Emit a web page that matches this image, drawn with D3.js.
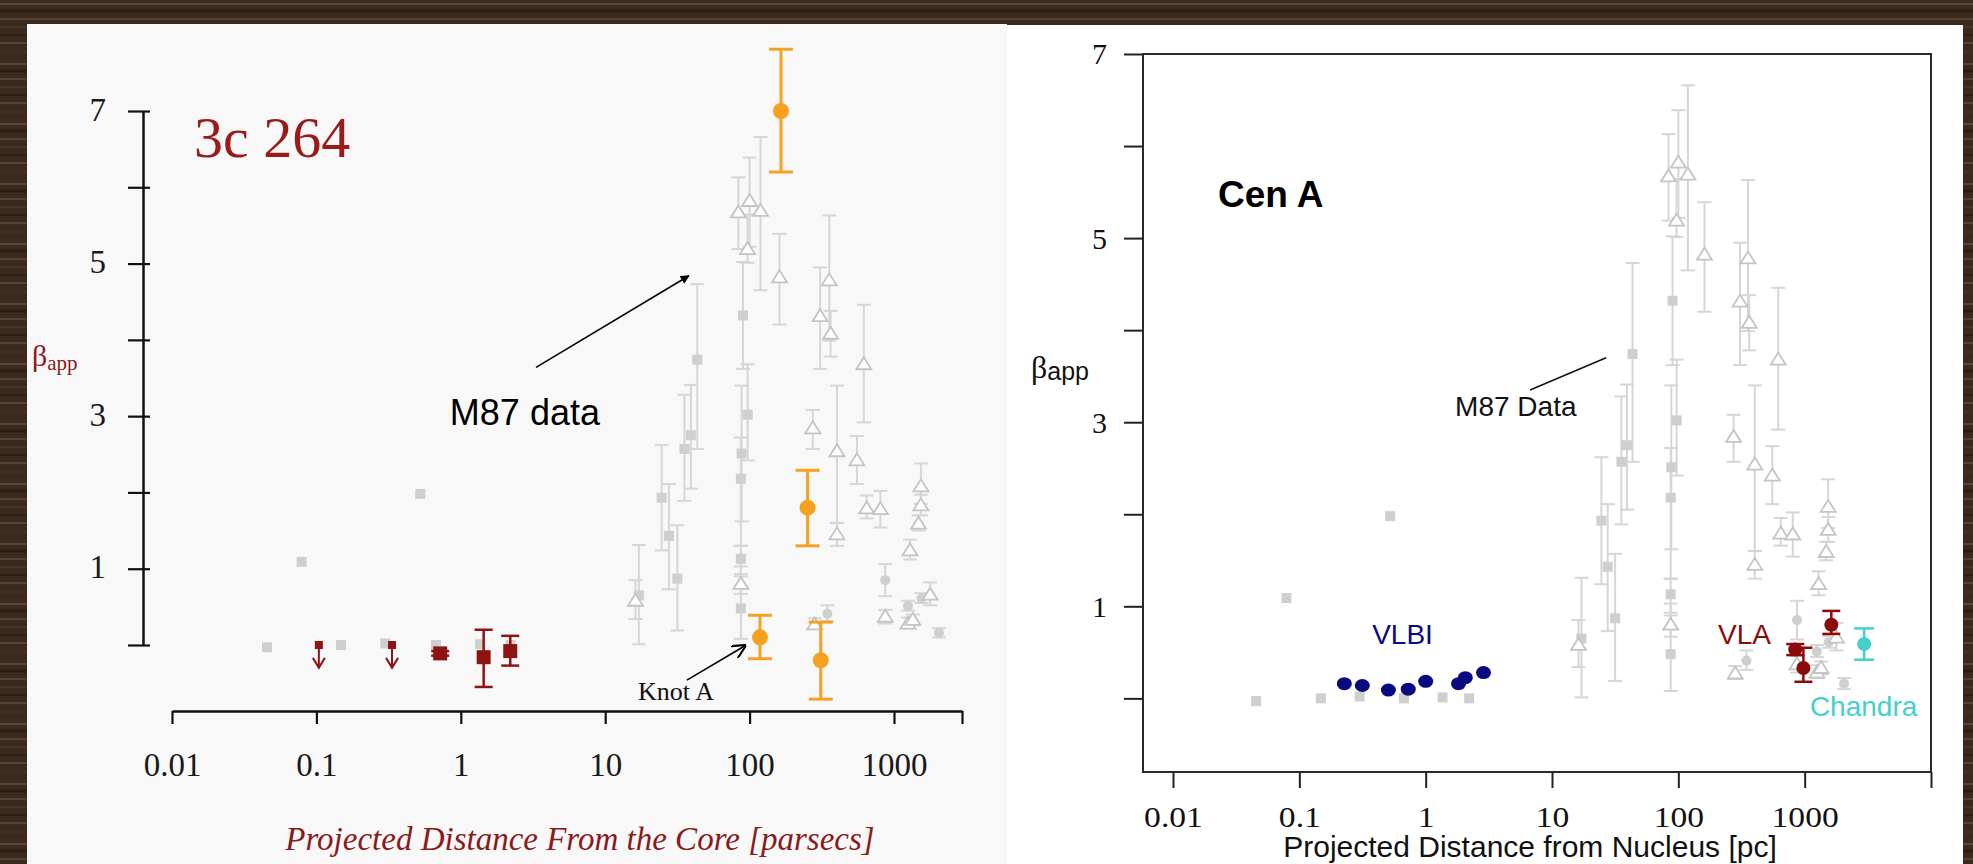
<!DOCTYPE html>
<html>
<head>
<meta charset="utf-8">
<script src="https://cdn.jsdelivr.net/npm/d3@7"></script>
<style>
  body { margin: 0; background: #3a2a1e; }
  svg { display: block; }
  .serif { font-family: "Liberation Serif", "DejaVu Serif", serif; }
  .sans { font-family: "Liberation Sans", Arial, sans-serif; }
</style>
</head>
<body>
<svg id="chart" width="1973" height="864"></svg>
<script>
// M87 comparison data (grey), shared by both panels
var m87X = [0.0455, 0.079, 0.148, 0.30, 0.524, 0.673, 1.36, 2.21,
  17.1, 16.2, 24.6, 27.6, 31.6, 35.4, 39.2, 43.4,
  83.6, 96.8, 100, 119, 90, 97, 88, 87, 87, 87, 87,
  161, 308, 356, 364, 618, 274, 403, 554, 647, 805, 403,
  1535, 1535, 1480, 1290, 282, 346, 870, 870, 1250, 1250, 1350, 1550, 1780, 2050]
var m87Y = [-0.03, 1.09, 0.0, 0.02, 1.98, 0.0, 0.01, 0.0,
  0.65, 0.58, 1.93, 1.43, 0.87, 2.57, 2.75, 3.74,
  5.67, 5.19, 5.82, 5.69, 4.32, 3.02, 2.51, 2.18, 1.13, 0.80, 0.48,
  4.82, 4.31, 4.78, 4.08, 3.68, 2.84, 2.54, 2.42, 1.79, 1.78, 1.45,
  2.08, 1.83, 1.59, 1.24, 0.27, 0.41, 0.85, 0.37, 0.51, 0.28, 0.33, 0.61, 0.66, 0.16]
var m87Lo = [null, null, null, null, null, null, null, null,
  0.01, 0.34, 1.24, 0.73, 0.19, 1.89, 2.05, 2.57,
  5.19, 5.01, 5.22, 4.65, 3.62, 2.42, 1.62, 1.30, 0.93, 0.67, 0.08,
  4.20, 3.62, 3.99, 3.78, 2.92, 2.57, 1.60, 2.11, 1.66, 1.54, 1.30,
  1.85, 1.70, 1.50, 1.12, 0.21, 0.31, 0.64, 0.28, 0.45, 0.22, 0.26, 0.55, 0.52, 0.10]
var m87Hi = [null, null, null, null, null, null, null, null,
  1.31, 0.85, 2.62, 2.11, 1.57, 3.28, 3.41, 4.73,
  6.13, 5.64, 6.39, 6.66, 5.02, 3.68, 3.40, 2.72, 1.30, 0.90, 1.03,
  5.39, 4.95, 5.63, 4.38, 4.46, 3.08, 3.40, 2.74, 1.96, 2.02, 1.60,
  2.38, 1.97, 1.70, 1.38, 0.35, 0.52, 1.06, 0.46, 0.58, 0.36, 0.40, 0.68, 0.82, 0.22]
var m87Shape = ["s", "s", "s", "s", "s", "s", "s", "s",
  "s", "t", "s", "s", "s", "s", "s", "s",
  "t", "t", "t", "t", "s", "s", "s", "s", "s", "t", "s",
  "t", "t", "t", "t", "t", "t", "t", "t", "t", "t", "t",
  "t", "t", "t", "t", "t", "c", "c", "t", "c", "t", "t", "c", "t", "c"]

// 3C 264 panel
var c264X = [0.72, 1.44, 2.2]
var c264Y = [-0.11, -0.16, -0.08]
var c264Lo = [-0.14, -0.55, -0.27]
var c264Hi = [-0.08, 0.20, 0.12]
var c264LimX = [0.104, 0.334]   // upper limits
var c264LimY = [0.0, 0.0]
var hstX = [165, 252, 118, 311]
var hstY = [7.0, 1.80, 0.10, -0.20]
var hstLo = [6.2, 1.30, -0.18, -0.71]
var hstHi = [7.81, 2.29, 0.39, 0.30]

// Cen A panel
var vlbiX = [0.227, 0.315, 0.507, 0.728, 1.0, 1.82, 2.06, 2.87]
var vlbiY = [0.16, 0.14, 0.09, 0.10, 0.185, 0.16, 0.225, 0.28]
var vlaX = [842, 977, 1625]
var vlaY = [0.53, 0.33, 0.80]
var vlaLo = [0.47, 0.18, 0.70]
var vlaHi = [0.59, 0.55, 0.95]
var chandraX = [2957]
var chandraY = [0.59]
var chandraLo = [0.42]
var chandraHi = [0.76]

var xTicks = [0.01, 0.1, 1, 10, 100, 1000]
var yTicks = [0, 1, 2, 3, 4, 5, 6, 7]
var yLabels = [1, 3, 5, 7]

var svg = d3.select("#chart")
var defs = svg.append("defs")

// wood-ish backdrop
var grain = [[4, "#5b4532", 2], [11, "#2a1d14", 3], [19, "#6e5842", 1], [27, "#463324", 2],
  [35, "#2b1f16", 2], [43, "#60493a", 1.5], [52, "#3f2e21", 3]]
var pat = defs.append("pattern").attr("id", "wood")
  .attr("patternUnits", "userSpaceOnUse").attr("width", 400).attr("height", 60)
pat.append("rect").attr("width", 400).attr("height", 60).attr("fill", "#3a2a1e")
grain.forEach(function (g) {
  pat.append("line").attr("x1", 0).attr("x2", 400).attr("y1", g[0]).attr("y2", g[0])
    .attr("stroke", g[1]).attr("stroke-width", g[2])
})
svg.append("rect").attr("width", 1973).attr("height", 864).attr("fill", "url(#wood)")

defs.append("marker").attr("id", "headFill")
  .attr("viewBox", "0 0 10 10").attr("refX", 9).attr("refY", 5)
  .attr("markerWidth", 9).attr("markerHeight", 9).attr("markerUnits", "userSpaceOnUse")
  .attr("orient", "auto")
  .append("path").attr("d", "M0,0 L10,5 L0,10 Z").attr("fill", "#000")
defs.append("marker").attr("id", "headOpen")
  .attr("viewBox", "0 0 10 10").attr("refX", 9).attr("refY", 5)
  .attr("markerWidth", 14).attr("markerHeight", 14).attr("markerUnits", "userSpaceOnUse")
  .attr("orient", "auto")
  .append("path").attr("d", "M0,0 L10,5 L0,10").attr("fill", "none")
  .attr("stroke", "#000").attr("stroke-width", 1.5)

// panels
svg.append("rect").attr("x", 27).attr("y", 24).attr("width", 980).attr("height", 840).attr("fill", "#f8f8f8")
svg.append("rect").attr("x", 1007).attr("y", 25).attr("width", 956).attr("height", 839).attr("fill", "#ffffff")

var fmt = function (d) { return d >= 1 ? d3.format("d")(d) : String(d) }
var grey = "#cfcfcf"
var greyLine = "#d6d6d6"

function drawM87(g, x, y, cap) {
  var idx = d3.range(m87X.length)
  g.selectAll("line.eb").data(idx.filter(function (i) { return m87Lo[i] != null }))
    .join("line").attr("class", "eb")
    .attr("x1", function (i) { return x(m87X[i]) }).attr("x2", function (i) { return x(m87X[i]) })
    .attr("y1", function (i) { return y(m87Lo[i]) }).attr("y2", function (i) { return y(m87Hi[i]) })
    .attr("stroke", greyLine).attr("stroke-width", 2)
  ;["lo", "hi"].forEach(function (k) {
    var arr = k == "lo" ? m87Lo : m87Hi
    g.selectAll("line.cap" + k).data(idx.filter(function (i) { return arr[i] != null }))
      .join("line").attr("class", "cap" + k)
      .attr("x1", function (i) { return x(m87X[i]) - cap }).attr("x2", function (i) { return x(m87X[i]) + cap })
      .attr("y1", function (i) { return y(arr[i]) }).attr("y2", function (i) { return y(arr[i]) })
      .attr("stroke", greyLine).attr("stroke-width", 2)
  })
  g.selectAll("rect.sq").data(idx.filter(function (i) { return m87Shape[i] == "s" }))
    .join("rect").attr("class", "sq")
    .attr("x", function (i) { return x(m87X[i]) - 5 }).attr("y", function (i) { return y(m87Y[i]) - 5 })
    .attr("width", 10).attr("height", 10).attr("fill", grey)
  g.selectAll("circle.ci").data(idx.filter(function (i) { return m87Shape[i] == "c" }))
    .join("circle").attr("class", "ci")
    .attr("cx", function (i) { return x(m87X[i]) }).attr("cy", function (i) { return y(m87Y[i]) })
    .attr("r", 5).attr("fill", grey)
  g.selectAll("path.tr").data(idx.filter(function (i) { return m87Shape[i] == "t" }))
    .join("path").attr("class", "tr")
    .attr("transform", function (i) { return "translate(" + x(m87X[i]) + "," + y(m87Y[i]) + ")" })
    .attr("d", "M0,-7 L7.5,5 L-7.5,5 Z")
    .attr("fill", "#fff").attr("stroke", "#c4c4c4").attr("stroke-width", 1.8)
}

function errBars(g, xs, ys, lo, hi, x, y, color, cap, w) {
  xs.forEach(function (d, i) {
    g.append("line").attr("x1", x(d)).attr("x2", x(d)).attr("y1", y(lo[i])).attr("y2", y(hi[i]))
      .attr("stroke", color).attr("stroke-width", w)
    ;[lo[i], hi[i]].forEach(function (v) {
      g.append("line").attr("x1", x(d) - cap).attr("x2", x(d) + cap).attr("y1", y(v)).attr("y2", y(v))
        .attr("stroke", color).attr("stroke-width", w)
    })
  })
}

// ---------------- left panel: 3C 264 ----------------
var xL = d3.scaleLog().domain([0.01, 2958]).range([172, 962])
var yL = d3.scaleLinear().domain([0, 7]).range([645, 111])
var gL = svg.append("g")

var axL = gL.append("g").attr("transform", "translate(143,0)")
  .call(d3.axisLeft(yL).tickValues(yTicks).tickSize(15).tickSizeOuter(0).tickPadding(22)
    .tickFormat(function (d) { return yLabels.includes(d) ? d : "" }))
axL.select(".domain").attr("stroke", "#111").attr("stroke-width", 2.5)
axL.selectAll(".tick line").attr("x1", 7).attr("stroke", "#111").attr("stroke-width", 2.2)
axL.selectAll(".tick text").attr("class", "serif").attr("font-size", 33).attr("fill", "#1a1a1a")
  .attr("dy", "0.28em")

var axLb = gL.append("g").attr("transform", "translate(0,711)")
  .call(d3.axisBottom(xL).tickValues(xTicks.concat([xL.domain()[1]])).tickSize(13).tickSizeOuter(0)
    .tickPadding(29).tickFormat(function (d) { return xTicks.includes(d) ? fmt(d) : "" }))
axLb.select(".domain").attr("stroke", "#111").attr("stroke-width", 2.5)
axLb.selectAll(".tick line").attr("stroke", "#111").attr("stroke-width", 2.2)
axLb.selectAll(".tick text").attr("class", "serif").attr("font-size", 33).attr("fill", "#1a1a1a")

gL.append("text").attr("class", "serif").attr("x", 580).attr("y", 850)
  .attr("text-anchor", "middle").attr("font-size", 33).attr("font-style", "italic").attr("fill", "#8b1a1a")
  .text("Projected Distance From the Core [parsecs]")
var bL = gL.append("text").attr("class", "serif").attr("x", 32).attr("y", 366).attr("fill", "#8b1a1a")
bL.append("tspan").attr("font-size", 30).text("β")
bL.append("tspan").attr("font-size", 21).attr("dy", 4).text("app")
gL.append("text").attr("class", "serif").attr("x", xL(0.0142)).attr("y", yL(6.40))
  .attr("font-size", 58).attr("fill", "#9b1b1b").text("3c 264")

drawM87(gL.append("g"), xL, yL, 7)

// annotations
gL.append("line").attr("x1", xL(3.32)).attr("y1", yL(3.64)).attr("x2", xL(38)).attr("y2", yL(4.84))
  .attr("stroke", "#000").attr("stroke-width", 1.6).attr("marker-end", "url(#headFill)")
gL.append("text").attr("class", "sans").attr("x", xL(0.84)).attr("y", yL(2.88))
  .attr("font-size", 36).attr("fill", "#000").text("M87 data")
gL.append("line").attr("x1", xL(36.8)).attr("y1", yL(-0.46)).attr("x2", xL(93)).attr("y2", yL(-0.01))
  .attr("stroke", "#000").attr("stroke-width", 1.6).attr("marker-end", "url(#headOpen)")
gL.append("text").attr("class", "serif").attr("x", xL(16.9)).attr("y", yL(-0.72))
  .attr("font-size", 26).attr("fill", "#111").text("Knot A")

// HST (orange)
var gH = gL.append("g")
errBars(gH, hstX, hstY, hstLo, hstHi, xL, yL, "#f3a324", 12, 3)
gH.selectAll("circle").data(hstX).join("circle")
  .attr("cx", function (d) { return xL(d) }).attr("cy", function (d, i) { return yL(hstY[i]) })
  .attr("r", 8).attr("fill", "#f5a01e")

// 3C 264 red
var red = "#8e1414"
var gR = gL.append("g")
errBars(gR, c264X, c264Y, c264Lo, c264Hi, xL, yL, red, 9, 2.5)
gR.selectAll("rect").data(c264X).join("rect")
  .attr("x", function (d) { return xL(d) - 7 }).attr("y", function (d, i) { return yL(c264Y[i]) - 7 })
  .attr("width", 14).attr("height", 14).attr("fill", red)
c264LimX.forEach(function (d, i) {
  var y0 = yL(c264LimY[i]), y1 = yL(c264LimY[i] - 0.3)
  gR.append("rect").attr("x", xL(d) - 4).attr("y", y0 - 4).attr("width", 8).attr("height", 8).attr("fill", red)
  gR.append("line").attr("x1", xL(d)).attr("x2", xL(d)).attr("y1", y0).attr("y2", y1)
    .attr("stroke", red).attr("stroke-width", 2)
  gR.append("path").attr("d", "M" + (xL(d) - 6) + "," + (y1 - 10) + " L" + xL(d) + "," + y1 +
    " L" + (xL(d) + 6) + "," + (y1 - 10))
    .attr("fill", "none").attr("stroke", red).attr("stroke-width", 2)
})

// ---------------- right panel: Cen A ----------------
var xR = d3.scaleLog().domain([Math.pow(10, -2.2375), 10000]).range([1143, 1931])
var yR = d3.scaleLinear().domain([-0.8, 7]).range([772, 54])
var gC = svg.append("g")

var axR = gC.append("g").attr("transform", "translate(1143,0)")
  .call(d3.axisLeft(yR).tickValues(yTicks).tickSize(19).tickPadding(17)
    .tickFormat(function (d) { return yLabels.includes(d) ? d : "" }))
axR.select(".domain").remove()
axR.selectAll(".tick line").attr("stroke", "#222").attr("stroke-width", 2)
axR.selectAll(".tick text").attr("class", "serif").attr("font-size", 30).attr("fill", "#111").attr("dy", "0.33em")

var axRb = gC.append("g").attr("transform", "translate(0,772)")
  .call(d3.axisBottom(xR).tickValues(xTicks.concat([10000])).tickSize(16).tickPadding(18)
    .tickFormat(function (d) { return xTicks.includes(d) ? fmt(d) : "" }))
axRb.select(".domain").remove()
axRb.selectAll(".tick line").attr("stroke", "#222").attr("stroke-width", 2)
axRb.selectAll(".tick text").attr("class", "serif").attr("font-size", 30).attr("fill", "#111")
  .attr("transform", "scale(1.12,1)")

gC.append("rect").attr("x", xR.range()[0]).attr("y", yR.range()[1])
  .attr("width", xR.range()[1] - xR.range()[0]).attr("height", yR.range()[0] - yR.range()[1])
  .attr("fill", "none").attr("stroke", "#2a2a2a").attr("stroke-width", 2)

gC.append("text").attr("class", "sans").attr("x", 1530).attr("y", 857)
  .attr("text-anchor", "middle").attr("font-size", 30).attr("fill", "#111")
  .text("Projected Distance from Nucleus [pc]")
var bR = gC.append("text").attr("x", 1031).attr("y", 378).attr("fill", "#111")
bR.append("tspan").attr("class", "serif").attr("font-size", 32).text("β")
bR.append("tspan").attr("class", "sans").attr("font-size", 25).attr("dy", 2).text("app")
gC.append("text").attr("class", "sans").attr("x", xR(0.0227)).attr("y", yR(5.34))
  .attr("font-size", 37).attr("font-weight", "bold").attr("fill", "#000").text("Cen A")

drawM87(gC.append("g"), xR, yR, 7)

gC.append("line").attr("x1", xR(6.71)).attr("y1", yR(3.35)).attr("x2", xR(26.8)).attr("y2", yR(3.70))
  .attr("stroke", "#111").attr("stroke-width", 1.5)
gC.append("text").attr("class", "sans").attr("x", xR(1.71)).attr("y", yR(3.07))
  .attr("font-size", 28).attr("fill", "#111").text("M87 Data")

gC.append("g").selectAll("ellipse").data(vlbiX).join("ellipse")
  .attr("cx", function (d) { return xR(d) }).attr("cy", function (d, i) { return yR(vlbiY[i]) })
  .attr("rx", 7.5).attr("ry", 6.5).attr("fill", "#0a0a80")
gC.append("text").attr("class", "sans").attr("x", xR(0.377)).attr("y", yR(0.59))
  .attr("font-size", 28).attr("fill", "#0a0a80").text("VLBI")

var vlaCol = "#8b0a0a"
var gV = gC.append("g")
errBars(gV, vlaX, vlaY, vlaLo, vlaHi, xR, yR, vlaCol, 9, 2.5)
gV.selectAll("ellipse").data(vlaX).join("ellipse")
  .attr("cx", function (d) { return xR(d) }).attr("cy", function (d, i) { return yR(vlaY[i]) })
  .attr("rx", 7).attr("ry", 7).attr("fill", vlaCol)
gC.append("text").attr("class", "sans").attr("x", xR(206)).attr("y", yR(0.59))
  .attr("font-size", 28).attr("fill", vlaCol).text("VLA")

var chCol = "#44d0cc"
var gCh = gC.append("g")
errBars(gCh, chandraX, chandraY, chandraLo, chandraHi, xR, yR, chCol, 10, 2.5)
gCh.selectAll("ellipse").data(chandraX).join("ellipse")
  .attr("cx", function (d) { return xR(d) }).attr("cy", function (d, i) { return yR(chandraY[i]) })
  .attr("rx", 7).attr("ry", 7).attr("fill", chCol)
gC.append("text").attr("class", "sans").attr("x", xR(1100)).attr("y", yR(-0.19))
  .attr("font-size", 28).attr("fill", chCol).text("Chandra")
</script>
</body>
</html>
